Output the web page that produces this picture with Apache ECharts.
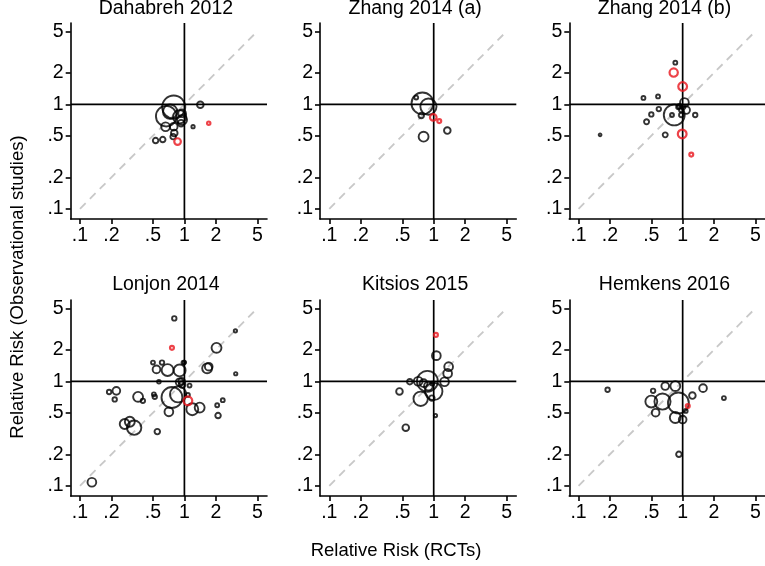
<!DOCTYPE html>
<html>
<head>
<meta charset="utf-8">
<script src="https://cdn.jsdelivr.net/npm/echarts@6/dist/echarts.min.js"></script>
<style>html,body{margin:0;padding:0;background:#fff}#c{width:765px;height:566px}</style>
</head>
<body>
<div id="c"></div>
<script>
// ---- data ----
const tickValues = [0.1, 0.2, 0.5, 1, 2, 5];
const tickLabels = ['.1', '.2', '.5', '1', '2', '5'];
const panelTitles = ['Dahabreh 2012', 'Zhang 2014 (a)', 'Zhang 2014 (b)', 'Lonjon 2014', 'Kitsios 2015', 'Hemkens 2016'];
const xTitle = 'Relative Risk (RCTs)';
const yTitle = 'Relative Risk (Observational studies)';

// each panel: RCT relative risk, observational relative risk, weight, highlighted (1 = red)
const p1_rct = [0.79, 0.67, 0.73, 0.90, 0.95, 0.66, 0.79, 0.80, 0.78, 0.53, 0.62, 1.42, 1.21, 0.95, 0.93, 0.86, 1.71];
const p1_obs = [0.94, 0.77, 0.85, 0.76, 0.71, 0.61, 0.61, 0.53, 0.49, 0.45, 0.46, 0.99, 0.61, 0.82, 0.66, 0.44, 0.66];
const p1_w   = [49, 39, 19, 16, 9, 7, 5.4, 4, 2.8, 2.8, 2.8, 4, 1, 5.4, 4, 4, 1];
const p1_red = [0, 0, 0, 0, 0, 0, 0, 0, 0, 0, 0, 0, 0, 0, 0, 1, 1];

const p2_rct = [0.78, 0.89, 0.68, 0.76, 0.80, 1.35, 0.99, 1.13];
const p2_obs = [1.02, 0.95, 1.16, 0.78, 0.49, 0.56, 0.75, 0.69];
const p2_w   = [44, 24, 1.4, 2.8, 9, 4, 4, 1.4];
const p2_red = [0, 0, 0, 0, 0, 0, 1, 1];

const p3_rct = [0.161, 0.85, 0.82, 1.0, 0.42, 0.58, 0.59, 0.50, 0.45, 0.68, 0.83, 0.79, 1.04, 1.08, 0.93, 0.97, 0.97, 1.01, 1.32, 0.99, 1.21, 0.91];
const p3_obs = [0.51, 2.50, 2.01, 1.48, 1.15, 1.19, 0.90, 0.80, 0.68, 0.51, 0.79, 0.79, 1.04, 0.88, 0.96, 0.88, 0.79, 0.94, 0.79, 0.52, 0.33, 0.94];
const p3_w   = [0.7, 1.4, 6.3, 7, 1.4, 1.4, 1.8, 1.8, 2.3, 2.3, 40, 1.4, 7, 5.4, 1.8, 1.8, 1.8, 1.8, 1.8, 7, 1.4, 1.8];
const p3_red = [0, 0, 1, 1, 0, 0, 0, 0, 0, 0, 0, 0, 0, 0, 0, 0, 0, 0, 0, 1, 1, 0];

const p4_rct = [0.130, 0.80, 0.76, 3.08, 2.03, 3.1, 1.65, 1.71, 0.69, 0.90, 0.54, 0.50, 0.61, 0.98, 1.0, 0.57, 0.90, 0.94, 0.95, 1.12, 0.76, 0.87, 1.08, 1.08, 1.19, 1.40, 0.71, 0.55, 2.06, 2.33, 2.10, 0.36, 0.40, 0.51, 0.52, 0.223, 0.19, 0.215, 0.268, 0.30, 0.33];
const p4_obs = [0.108, 4.0, 2.09, 3.04, 2.09, 1.18, 1.33, 1.38, 1.28, 1.27, 1.30, 1.51, 1.51, 1.51, 1.52, 0.99, 0.98, 1.00, 0.93, 0.91, 0.70, 0.75, 0.65, 0.74, 0.54, 0.56, 0.51, 0.33, 0.59, 0.66, 0.47, 0.71, 0.65, 0.75, 0.71, 0.81, 0.79, 0.67, 0.39, 0.41, 0.36];
const p4_w   = [7, 1.8, 1.4, 1, 9, 1, 9, 5.4, 13, 13, 5.4, 1.4, 1.8, 1.4, 1, 1.2, 5.4, 4, 4, 1.4, 40, 24, 7, 1.4, 13, 9, 7, 2.8, 1.4, 1.4, 2.8, 9, 1.8, 1.4, 1.8, 5.4, 1.8, 1.8, 9, 9, 19];
const p4_red = [0, 0, 1, 0, 0, 0, 0, 0, 0, 0, 0, 0, 0, 0, 0, 0, 0, 0, 0, 0, 0, 0, 1, 0, 0, 0, 0, 0, 0, 0, 0, 0, 0, 0, 0, 0, 0, 0, 0, 0, 0];

const p5_rct = [1.05, 1.06, 1.39, 1.36, 1.27, 0.87, 1.0, 0.75, 0.71, 0.80, 0.89, 0.59, 0.47, 0.54, 1.04, 0.96, 0.97];
const p5_obs = [2.78, 1.76, 1.38, 1.19, 0.99, 1.0, 0.80, 0.68, 1.0, 0.96, 0.90, 0.99, 0.80, 0.36, 0.47, 0.69, 0.95];
const p5_w   = [1.4, 7, 7, 7, 7, 40, 28, 19, 7, 5.4, 7, 2.8, 4, 4, 1, 2.8, 1.4];
const p5_red = [1, 0, 0, 0, 0, 0, 0, 0, 0, 0, 0, 0, 0, 0, 0, 0, 0];

const p6_rct = [0.19, 2.49, 1.57, 1.24, 0.91, 0.85, 0.68, 0.52, 0.64, 0.50, 0.55, 0.85, 1.0, 1.07, 1.12, 0.92];
const p6_obs = [0.83, 0.69, 0.86, 0.73, 0.62, 0.90, 0.90, 0.81, 0.64, 0.64, 0.50, 0.45, 0.43, 0.52, 0.58, 0.20];
const p6_w   = [1.8, 1.4, 5.4, 4, 40, 9, 5.4, 1.8, 24, 13, 5.4, 11, 5.4, 1.4, 1.4, 2.8];
const p6_red = [0, 0, 0, 0, 0, 0, 0, 0, 0, 0, 0, 0, 0, 0, 1, 0];

const diagFrom = 0.1, diagTo = 5;

// ---- build ----
const panels = [
  [p1_rct, p1_obs, p1_w, p1_red], [p2_rct, p2_obs, p2_w, p2_red], [p3_rct, p3_obs, p3_w, p3_red],
  [p4_rct, p4_obs, p4_w, p4_red], [p5_rct, p5_obs, p5_w, p5_red], [p6_rct, p6_obs, p6_w, p6_red]
];
const L = Math.log10;
const FONT = 'Liberation Sans, Arial, sans-serif';
const colLeft = [70.7, 320, 569.3];
const rowTop = [23, 300];
const W = 196.3, H = 196;
const xMin = -1.089, xMax = 0.791, yMin = -1.098, yMax = 0.778;
const tickLog = tickValues.map(L);
function fmt(v) {
  let best = 0;
  tickLog.forEach((t, i) => { if (Math.abs(t - v) < Math.abs(tickLog[best] - v)) best = i; });
  return tickLabels[best];
}
const grid = [], xAxis = [], yAxis = [], series = [], graphic = [];
panels.forEach((p, i) => {
  const c = i % 3, r = Math.floor(i / 3);
  grid.push({ left: colLeft[c], top: rowTop[r], width: W, height: H, containLabel: false });
  const axisCommon = {
    type: 'value', gridIndex: i,
    axisLine: { show: true, onZero: false, lineStyle: { color: '#000', width: 1.6 } },
    axisTick: { show: true, length: 5, lineStyle: { color: '#000', width: 1.6 }, customValues: tickLog },
    axisLabel: { customValues: tickLog, formatter: fmt, color: '#000', fontSize: 19.5, fontFamily: FONT, margin: 7 },
    splitLine: { show: false }
  };
  xAxis.push(Object.assign({}, axisCommon, { min: xMin, max: xMax }));
  yAxis.push(Object.assign({}, axisCommon, { min: yMin, max: yMax }));
  // reference lines
  series.push({ type: 'line', xAxisIndex: i, yAxisIndex: i, silent: true, showSymbol: false, z: 1,
    data: [[L(diagFrom), L(diagFrom)], [L(diagTo), L(diagTo)]],
    lineStyle: { color: '#c8c8c8', width: 1.8, type: [8, 6] } });
  series.push({ type: 'line', xAxisIndex: i, yAxisIndex: i, silent: true, showSymbol: false, z: 2,
    data: [[xMin, 0], [xMax, 0]], lineStyle: { color: '#000', width: 1.7 } });
  series.push({ type: 'line', xAxisIndex: i, yAxisIndex: i, silent: true, showSymbol: false, z: 2,
    data: [[0, yMin], [0, yMax]], lineStyle: { color: '#000', width: 1.7 } });
  const black = [], red = [];
  p[0].forEach((x, k) => {
    const d = [L(x), L(p[1][k]), p[2][k]];
    (p[3][k] ? red : black).push(d);
  });
  const sz = v => 3.3 * Math.sqrt(v[2]);
  series.push({ type: 'scatter', xAxisIndex: i, yAxisIndex: i, data: black, symbolSize: sz, z: 3,
    itemStyle: { color: 'rgba(0,0,0,0)', borderColor: '#000', borderWidth: 1.9 }, emphasis: { disabled: true } });
  series.push({ type: 'scatter', xAxisIndex: i, yAxisIndex: i, data: red, symbolSize: sz, z: 4,
    itemStyle: { color: 'rgba(0,0,0,0)', borderColor: '#e8141c', borderWidth: 2.2 }, emphasis: { disabled: true } });
  graphic.push({ type: 'text', x: colLeft[c] + W / 2 - 3, y: r === 0 ? -1 : 275, z: 10,
    style: { text: panelTitles[i], fontSize: 19.5, fontFamily: FONT, fill: '#000', textAlign: 'center', textVerticalAlign: 'top' } });
});
graphic.push({ type: 'text', x: 396, y: 551, z: 10,
  style: { text: xTitle, fontSize: 18.5, fontFamily: FONT, fill: '#000', textAlign: 'center', textVerticalAlign: 'middle' } });
graphic.push({ type: 'text', x: 18, y: 287, rotation: Math.PI / 2, z: 10,
  style: { text: yTitle, fontSize: 18.5, fontFamily: FONT, fill: '#000', textAlign: 'center', textVerticalAlign: 'middle' } });

const chart = echarts.init(document.getElementById('c'), null, { renderer: 'canvas' });
chart.setOption({ animation: false, backgroundColor: '#fff', grid, xAxis, yAxis, series, graphic });
</script>
</body>
</html>
